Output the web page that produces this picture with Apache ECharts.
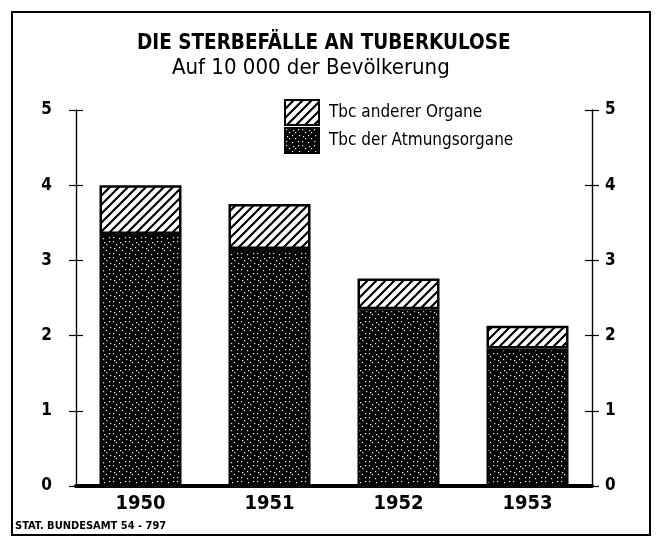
<!DOCTYPE html>
<html>
<head>
<meta charset="utf-8">
<style>
  html, body { margin: 0; padding: 0; background: #fff; }
  #chart { width: 664px; height: 540px; }
</style>
<script src="https://cdn.jsdelivr.net/npm/echarts@6/dist/echarts.min.js"></script>
</head>
<body>
<div id="chart"></div>
<script>
// values (deaths per 10 000 inhabitants)
var years = ['1950', '1951', '1952', '1953'];
var atmungsorgane = [3.35, 3.15, 2.35, 1.83];
var andereOrgane = [0.65, 0.60, 0.41, 0.30];
var yTicks = [0, 1, 2, 3, 4, 5];

var FONT = "'DejaVu Sans Condensed', 'Liberation Sans Narrow', 'DejaVu Sans', sans-serif";

// diagonal hatch ///
function hatchPattern(){
  var c = document.createElement('canvas');
  var s = 9;
  c.width = s; c.height = s;
  var g = c.getContext('2d');
  g.fillStyle = '#fff';
  g.fillRect(0, 0, s, s);
  g.strokeStyle = '#000';
  g.lineWidth = 2.2;
  g.beginPath();
  g.moveTo(-s, 2*s); g.lineTo(2*s, -s);
  g.moveTo(-2*s, 2*s); g.lineTo(s, -s);
  g.moveTo(0, 2*s); g.lineTo(3*s, -s);
  g.stroke();
  return c;
}

// mostly black with scattered white dots
function dotPattern(){
  var c = document.createElement('canvas');
  var s = 16;
  c.width = s; c.height = s;
  var g = c.getContext('2d');
  g.fillStyle = '#000';
  g.fillRect(0, 0, s, s);
  g.fillStyle = '#fff';
  var pts = [[1,1],[4,4],[7,7],[10,10],[13,13],[13,1],[10,4],[4,10],[1,13],[8,2],[2,8],[14,7],[7,14]];
  pts.forEach(function(p){ g.fillRect(p[0], p[1], 1.2, 1.2); });
  return c;
}

var chart = echarts.init(document.getElementById('chart'));

function yAxisDef(pos, inside, showLabel){
  return {
    type: 'value', position: pos, min: 0, max: 5, interval: 1,
    axisLine: { show: true, onZero: false, lineStyle: { color: '#000', width: 1.2 } },
    axisTick: { show: true, inside: inside, length: 7, lineStyle: { color: '#000', width: 1.2 } },
    splitLine: { show: false },
    axisLabel: {
      show: showLabel, color: '#000', fontFamily: FONT, fontSize: 17, fontWeight: 'bold',
      margin: pos === 'left' ? 24 : 13,
      formatter: function(v){ return yTicks.indexOf(v) >= 0 ? String(v) : ''; }
    }
  };
}

var opt = {
  backgroundColor: '#fff',
  animation: false,
  title: [
    { text: 'DIE STERBEFÄLLE AN TUBERKULOSE', left: 137, top: 33, padding: 0,
      textStyle: { fontFamily: FONT, fontSize: 20.5, fontWeight: 'bold', color: '#000' } },
    { text: 'Auf 10 000 der Bevölkerung', left: 172, top: 57, padding: 0,
      textStyle: { fontFamily: FONT, fontSize: 22, fontWeight: 'normal', color: '#000' } },
    { text: 'STAT. BUNDESAMT 54 - 797', left: 15, top: 521, padding: 0,
      textStyle: { fontFamily: FONT, fontSize: 11, fontWeight: 'bold', color: '#000' } }
  ],
  legend: {
    orient: 'vertical', left: 284, top: 99, padding: 0,
    itemWidth: 34, itemHeight: 25, itemGap: 1,
    icon: 'rect',
    data: ['Tbc anderer Organe', 'Tbc der Atmungsorgane'],
    textStyle: { fontFamily: FONT, fontSize: 17, color: '#000', padding: [0, 0, 0, 5] }
  },
  grid: { left: 76, right: 72, top: 110, bottom: 54 },
  xAxis: {
    type: 'category', data: years,
    axisLine: { show: true, lineStyle: { color: '#000', width: 4 } },
    axisTick: { show: false },
    axisLabel: { color: '#000', fontFamily: FONT, fontSize: 20, fontWeight: 'bold', margin: 8 }
  },
  yAxis: [
    yAxisDef('left', false, true),
    yAxisDef('left', true, false),
    yAxisDef('right', false, true),
    yAxisDef('right', true, false)
  ],
  graphic: [
    { type: 'rect', shape: { x: 12, y: 12, width: 638, height: 523 },
      style: { fill: null, stroke: '#000', lineWidth: 2 }, z: -1 }
  ],
  series: [
    { name: 'Tbc der Atmungsorgane', type: 'bar', stack: 'tbc', barWidth: 82,
      data: atmungsorgane,
      itemStyle: { color: { image: dotPattern(), repeat: 'repeat' }, borderColor: '#000', borderWidth: 2 } },
    { name: 'Tbc anderer Organe', type: 'bar', stack: 'tbc', barWidth: 82,
      data: andereOrgane,
      itemStyle: { color: { image: hatchPattern(), repeat: 'repeat' }, borderColor: '#000', borderWidth: 2.5 } }
  ]
};

chart.setOption(opt);
</script>
</body>
</html>
